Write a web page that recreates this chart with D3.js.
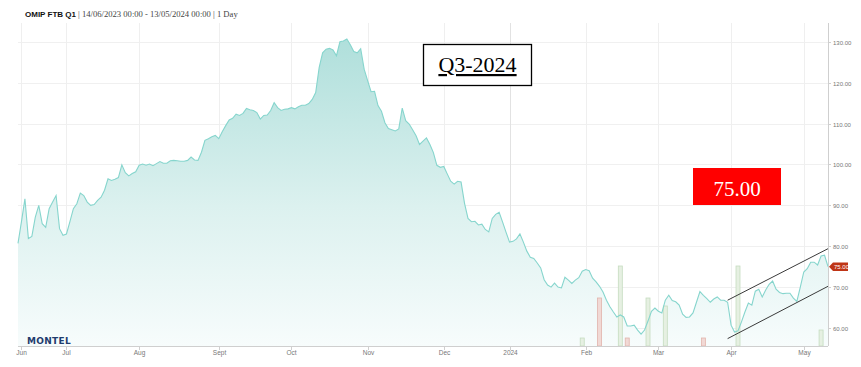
<!DOCTYPE html>
<html>
<head>
<meta charset="utf-8">
<script src="https://cdn.jsdelivr.net/npm/d3@7"></script>
<style>
  html, body { margin: 0; padding: 0; background: #fff; }
  svg { display: block; }
</style>
</head>
<body>
<div id="chart"></div>
<script>
// trading sessions from 14/06/2023 (session 0) to 13/05/2024
var prices = [
  80.7, 86.0, 91.6, 81.9, 82.4, 87.1, 90.0, 85.5, 84.6, 89.2, 90.8, 92.4, 84.3, 82.7, 83.0, 86.0, 89.2, 90.4, 93.0, 92.4, 90.8, 90.0, 90.2, 91.2, 92.0, 93.7,
  96.5, 96.1, 96.4, 96.8, 99.9, 98.0, 97.2, 97.8, 98.2, 99.8, 100.1, 99.8, 100.1, 99.7, 100.2, 100.7, 100.3, 100.3, 100.9, 101.0,
  100.9, 100.8, 100.8, 101.0, 101.8, 101.1, 101.0, 103.0, 105.9, 106.3, 106.8, 107.1, 106.3,
  108.0, 109.5, 110.9, 111.3, 112.3, 112.0, 112.5, 113.7, 113.4, 113.2, 112.7, 111.1, 112.0, 112.1, 113.2, 115.1, 113.9, 113.2, 113.5, 113.6,
  113.9, 113.6, 114.1, 114.5, 114.5, 114.9, 115.9, 117.6, 123.7, 127.3, 128.2, 128.4, 128.0, 126.6, 130.0, 130.2, 130.7, 129.3, 127.6, 127.3,
  128.3, 123.3, 120.5, 117.8, 117.9, 114.4, 113.0, 110.2, 108.8, 108.5, 108.2, 108.7, 113.8, 110.7, 109.9, 108.5, 107.0,
  104.9, 105.7, 106.5, 104.9, 102.9, 99.8, 99.3, 99.5, 97.7, 95.9, 95.2, 95.9, 95.7, 90.5, 86.8, 86.0, 86.1, 85.2, 85.4, 84.1,
  83.5, 86.8, 87.8, 88.3, 85.9, 83.4, 81.0, 81.2, 81.8, 83.0, 81.0, 78.8, 77.3, 77.0, 75.9, 74.7, 71.8, 70.5, 70.0, 71.0,
  70.0, 69.8, 72.4, 71.7, 70.9, 71.7, 72.3, 73.9, 74.3, 74.0, 72.2, 71.3, 70.2, 68.8, 66.8, 65.2, 63.9, 62.7, 63.2, 62.7,
  60.5, 60.5, 60.7, 59.5, 58.5, 59.5, 61.7, 64.1, 64.9, 64.1, 63.7, 66.8, 68.0, 66.7, 66.4, 65.6, 63.4, 62.6, 62.7, 63.7,
  66.3, 68.9, 68.0, 67.2, 66.3, 67.1, 67.6, 66.8, 66.8, 66.3, 60.7, 59.0, 59.3, 61.5, 63.9, 66.1, 65.6, 69.0, 69.5, 67.6,
  69.3, 70.7, 71.5, 69.5, 68.7, 68.4, 68.5, 68.5, 67.3, 66.5, 70.0, 73.7, 74.5, 76.1, 76.1, 75.4, 77.6, 77.8, 75.0
];

// month ticks (session index of first trading day)
var monthLabels = ["Jun", "Jul", "Aug", "Sept", "Oct", "Nov", "Dec", "2024", "Feb", "Mar", "Apr", "May"];
var monthSessions = [1, 14, 35, 58, 79, 101, 123, 142, 164, 185, 206, 227];

var priceTicks = [60, 70, 80, 90, 100, 110, 120, 130];

// volume bars
var volSessions = [163, 168, 174, 176, 182, 187, 198, 208, 232];
var volValues   = [2, 12, 20, 2, 12, 10, 2, 20, 4];
var volUp       = [true, false, true, false, true, true, false, true, true];

// drawn trend channel [session, price]
var channelUpper = [[205, 66.8], [234, 79.4]];
var channelLower = [[205, 57.4], [234, 70.2]];

var lastPrice = 75.00;

(function(){

  var W = 861, H = 367;
  var pl = 18, pr = 828, pt = 23, pb = 346;

  var svg = d3.select("#chart").append("svg")
    .attr("width", W)
    .attr("height", H);

  var x = d3.scaleLinear().domain([0, prices.length - 1]).range([pl, pr]);
  var y = d3.scaleLinear().domain([55.6, 134.6]).range([pb, pt]);
  var v = d3.scaleLinear().domain([0, 20]).range([pb, pb - 80]);

  // gradient for area
  var grad = svg.append("defs").append("linearGradient")
    .attr("id", "areaGrad")
    .attr("gradientUnits", "userSpaceOnUse")
    .attr("x1", 0).attr("y1", y(131))
    .attr("x2", 0).attr("y2", pb);
  grad.append("stop").attr("offset", "0%").attr("stop-color", "#afdfdb");
  grad.append("stop").attr("offset", "55%").attr("stop-color", "#dcf1ef");
  grad.append("stop").attr("offset", "100%").attr("stop-color", "#f7fcfc");

  // grid
  svg.append("g").selectAll("line")
    .data(priceTicks)
    .enter().append("line")
    .attr("x1", pl).attr("x2", pr)
    .attr("y1", function(d){ return Math.round(y(d)) + 0.5; })
    .attr("y2", function(d){ return Math.round(y(d)) + 0.5; })
    .style("stroke", "#f0f0f0");

  svg.append("g").selectAll("line")
    .data(monthSessions)
    .enter().append("line")
    .attr("x1", function(d){ return Math.round(x(d)) + 0.5; })
    .attr("x2", function(d){ return Math.round(x(d)) + 0.5; })
    .attr("y1", pt).attr("y2", pb)
    .style("stroke", function(d, i){ return monthLabels[i] == "2024" ? "#e2e2e2" : "#efefef"; });

  // area + line
  var area = d3.area()
    .x(function(d, i){ return x(i); })
    .y0(pb)
    .y1(function(d){ return y(d); });

  var line = d3.line()
    .x(function(d, i){ return x(i); })
    .y(function(d){ return y(d); });

  svg.append("path")
    .datum(prices)
    .attr("d", area)
    .style("fill", "url(#areaGrad)");

  // volume bars
  svg.append("g").selectAll("rect")
    .data(volSessions)
    .enter().append("rect")
    .attr("x", function(d){ return x(d) - 2; })
    .attr("width", 4)
    .attr("y", function(d, i){ return v(volValues[i]); })
    .attr("height", function(d, i){ return pb - v(volValues[i]); })
    .style("fill", function(d, i){ return volUp[i] ? "#e6f0e2" : "#f1d9d5"; })
    .style("stroke", function(d, i){ return volUp[i] ? "#c5dcc0" : "#e2b4ac"; })
    .style("stroke-width", 0.8);

  svg.append("path")
    .datum(prices)
    .attr("d", line)
    .style("fill", "none")
    .style("stroke", "#86d5cd")
    .style("stroke-width", 1.1);

  // channel lines
  [channelUpper, channelLower].forEach(function(c){
    svg.append("line")
      .attr("x1", x(c[0][0])).attr("y1", y(c[0][1]))
      .attr("x2", x(c[1][0])).attr("y2", y(c[1][1]))
      .style("stroke", "#3a3a3a")
      .style("stroke-width", 1);
  });

  // axes
  svg.append("line")
    .attr("x1", pl).attr("x2", pr)
    .attr("y1", pb + 0.5).attr("y2", pb + 0.5)
    .style("stroke", "#cfcfcf");
  svg.append("line")
    .attr("x1", pr + 0.5).attr("x2", pr + 0.5)
    .attr("y1", pt).attr("y2", pb)
    .style("stroke", "#cfcfcf");

  var xt = svg.append("g").selectAll("g")
    .data(monthSessions)
    .enter().append("g")
    .attr("transform", function(d){ return "translate(" + (Math.round(x(d)) + 0.5) + ",0)"; });
  xt.append("line")
    .attr("y1", pb).attr("y2", pb + 4)
    .style("stroke", "#cfcfcf");
  xt.append("text")
    .attr("y", pb + 9)
    .attr("text-anchor", "middle")
    .style("font-family", "Liberation Sans, Arial, sans-serif")
    .style("font-size", "6.5px")
    .style("fill", "#777")
    .text(function(d, i){ return monthLabels[i]; });

  var yt = svg.append("g").selectAll("g")
    .data(priceTicks)
    .enter().append("g")
    .attr("transform", function(d){ return "translate(0," + (Math.round(y(d)) + 0.5) + ")"; });
  yt.append("line")
    .attr("x1", pr).attr("x2", pr + 3)
    .style("stroke", "#cfcfcf");
  yt.append("text")
    .attr("x", pr + 5)
    .attr("dy", "0.35em")
    .style("font-family", "Liberation Sans, Arial, sans-serif")
    .style("font-size", "6px")
    .style("fill", "#777")
    .text(function(d){ return d3.format(".2f")(d); });

  // last price marker
  var ly = y(lastPrice);
  svg.append("path")
    .attr("d", "M" + (pr + 1) + "," + ly + " L" + (pr + 5) + "," + (ly - 4.2) + " L" + (pr + 20) + "," + (ly - 4.2) +
      " L" + (pr + 20) + "," + (ly + 4.2) + " L" + (pr + 5) + "," + (ly + 4.2) + " Z")
    .style("fill", "#bf3516");
  svg.append("text")
    .attr("x", pr + 6)
    .attr("y", ly)
    .attr("dy", "0.35em")
    .style("font-family", "Liberation Sans, Arial, sans-serif")
    .style("font-size", "6px")
    .style("fill", "#fff")
    .text(d3.format(".2f")(lastPrice));

  // title
  var title = svg.append("text")
    .attr("x", 25)
    .attr("y", 17)
    .style("font-size", "8px");
  title.append("tspan")
    .style("font-family", "Liberation Sans, Arial, sans-serif")
    .style("font-weight", "bold")
    .style("fill", "#111")
    .text("OMIP FTB Q1");
  title.append("tspan")
    .style("font-family", "Liberation Serif, Georgia, serif")
    .style("font-size", "8.6px")
    .style("fill", "#444")
    .text(" | 14/06/2023 00:00 - 13/05/2024 00:00 | 1 Day");

  // logo
  svg.append("text")
    .attr("x", 27)
    .attr("y", 343.5)
    .style("font-family", "DejaVu Sans, sans-serif")
    .style("font-weight", "bold")
    .style("font-size", "9px")
    .style("letter-spacing", "0.3px")
    .style("fill", "#1f3c6e")
    .text("MONTEL");

  // Q3-2024 box
  svg.append("rect")
    .attr("x", 423.5).attr("y", 44.5)
    .attr("width", 108).attr("height", 41)
    .style("fill", "#fff")
    .style("stroke", "#000")
    .style("stroke-width", 1.3);
  svg.append("text")
    .attr("x", 477.5)
    .attr("y", 72)
    .attr("text-anchor", "middle")
    .style("font-family", "Liberation Serif, Times New Roman, serif")
    .style("font-size", "22px")
    .style("text-decoration", "underline")
    .style("fill", "#000")
    .text("Q3-2024");

  // price box
  svg.append("rect")
    .attr("x", 693).attr("y", 168)
    .attr("width", 88).attr("height", 37)
    .style("fill", "#ff0000");
  svg.append("text")
    .attr("x", 737)
    .attr("y", 196)
    .attr("text-anchor", "middle")
    .style("font-family", "Liberation Serif, Times New Roman, serif")
    .style("font-size", "21px")
    .style("fill", "#fff")
    .text(d3.format(".2f")(lastPrice));

})();
</script>
</body>
</html>
